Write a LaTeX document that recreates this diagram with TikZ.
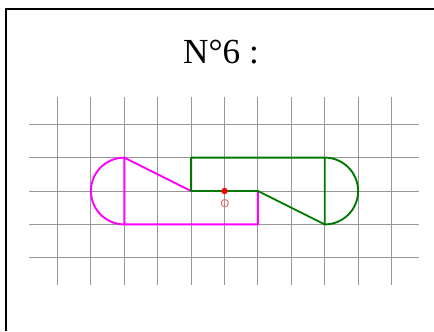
\documentclass[tikz,border=0pt]{standalone}
\usepackage{fontspec}
\setmainfont{Liberation Serif}
\newfontfamily\labfont{Liberation Sans}
\definecolor{gridgray}{RGB}{150,150,150}
\definecolor{shapemag}{RGB}{255,0,255}
\definecolor{shapegreen}{RGB}{0,120,0}
\definecolor{ptred}{RGB}{255,0,0}
\definecolor{labred}{RGB}{240,90,90}
\begin{document}
\begin{tikzpicture}[
  gridline/.style={draw=gridgray, line width=0.8pt},
  frameline/.style={draw=black, line width=1.7pt},
  magshape/.style={draw=shapemag, line width=1.6pt, line join=round},
  greenshape/.style={draw=shapegreen, line width=1.6pt, line join=round},
  titletext/.style={font=\fontsize{30}{34}\selectfont, anchor=base, inner sep=0pt},
  labtext/.style={font=\labfont\fontsize{9.5}{11}\selectfont, text=labred, inner sep=0pt}
]
\useasboundingbox (-6.722,-4.192) rectangle (6.272,5.719);
% frame (only the left and top sides are inside the picture)
\coordinate (fbl) at (-6.542,-4.192);
\coordinate (ftr) at (6.272,5.449);
\draw[frameline] (fbl) |- (ftr);
% title
\node[titletext] (title) at (-0.105,3.832) {N°6 :};
% grid
\foreach \x in {-5,...,5} \draw[gridline] (\x,-2.814) -- (\x,2.814);
\foreach \y in {-2,...,2} \draw[gridline] (-5.853,\y) -- (5.823,\y);
% magenta shape
\coordinate (m1) at (-3,1);
\coordinate (m2) at (-3,-1);
\coordinate (m3) at (1,-1);
\coordinate (m4) at (1,0);
\coordinate (m5) at (-1,0);
\draw[magshape] (m1) arc[start angle=90, end angle=270, radius=1];
\draw[magshape] (m1) -- (m2) -- (m3) -- (m4) -- (m5) -- cycle;
% green shape (image of the magenta one by the half-turn about O)
\coordinate (g1) at (3,-1);
\coordinate (g2) at (3,1);
\coordinate (g3) at (-1,1);
\coordinate (g4) at (-1,0);
\coordinate (g5) at (1,0);
\draw[greenshape] (g1) arc[start angle=-90, end angle=90, radius=1];
\draw[greenshape] (g1) -- (g2) -- (g3) -- (g4) -- (g5) -- cycle;
% centre O
\fill[ptred] (0,0) circle (0.095);
\node[labtext] (olab) at (0.01,-0.374) {O};
\end{tikzpicture}
\end{document}
